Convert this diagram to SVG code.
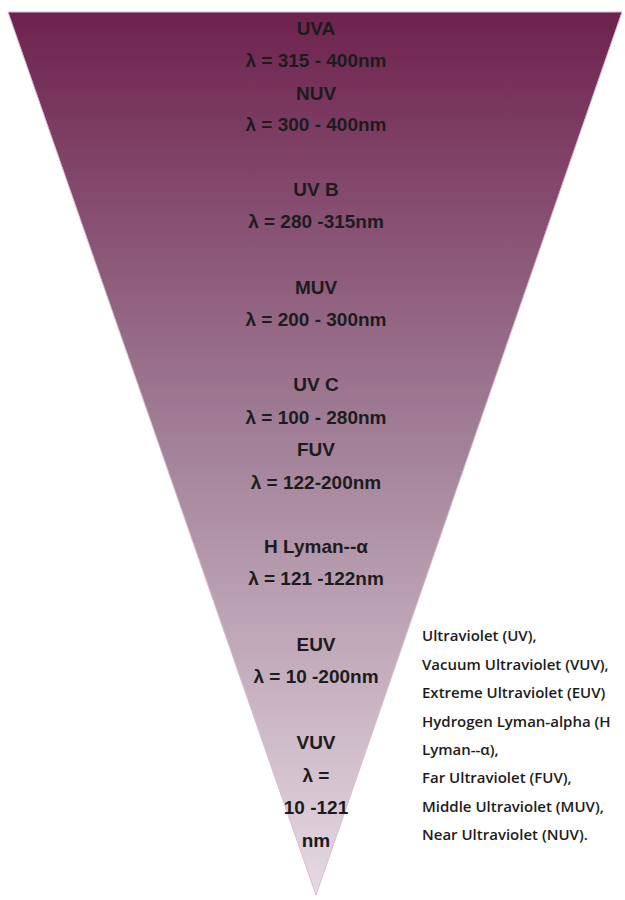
<svg xmlns="http://www.w3.org/2000/svg" width="625" height="900" viewBox="0 0 625 900">
<style>
.c{font-family:"Liberation Sans",Arial,sans-serif;font-weight:bold;font-size:19px;fill:#1c1c1c;text-anchor:middle}
.r{font-family:"Open Sans","Noto Sans",sans-serif;font-weight:600;font-size:15px;fill:#1c1c1c}
</style>
<defs>
<linearGradient id="g" x1="0" y1="12" x2="0" y2="895" gradientUnits="userSpaceOnUse">
<stop offset="0" stop-color="#6e224e"/>
<stop offset="0.5" stop-color="#a4839a"/>
<stop offset="1" stop-color="#e6dae3"/>
</linearGradient>
</defs>
<g id="funnel">
<polygon points="8,12 622,12 316,895" fill="url(#g)" stroke="#d8bccd" stroke-width="1"/>
</g>
<g id="bands">
<g id="uva"><text class="c" x="316" y="35">UVA</text><text class="c" x="316" y="67">λ = 315 - 400nm</text></g>
<g id="nuv"><text class="c" x="316" y="100">NUV</text><text class="c" x="316" y="131">λ = 300 - 400nm</text></g>
<g id="uvb"><text class="c" x="316" y="196">UV B</text><text class="c" x="316" y="228">λ = 280 -315nm</text></g>
<g id="muv"><text class="c" x="316" y="294">MUV</text><text class="c" x="316" y="326">λ = 200 - 300nm</text></g>
<g id="uvc"><text class="c" x="316" y="391">UV C</text><text class="c" x="316" y="424">λ = 100 - 280nm</text></g>
<g id="fuv"><text class="c" x="316" y="456">FUV</text><text class="c" x="316" y="489">λ = 122-200nm</text></g>
<g id="lyman"><text class="c" x="316" y="553">H Lyman--α</text><text class="c" x="316" y="585">λ = 121 -122nm</text></g>
<g id="euv"><text class="c" x="316" y="651">EUV</text><text class="c" x="316" y="683">λ = 10 -200nm</text></g>
<g id="vuv"><text class="c" x="316" y="749">VUV</text><text class="c" x="316" y="782">λ =</text><text class="c" x="316" y="814">10 -121</text><text class="c" x="316" y="847">nm</text></g>
</g>
<g id="legend">
<text class="r" x="422" y="641">Ultraviolet (UV),</text>
<text class="r" x="422" y="670">Vacuum Ultraviolet (VUV),</text>
<text class="r" x="422" y="698">Extreme Ultraviolet (EUV)</text>
<text class="r" x="422" y="727">Hydrogen Lyman-alpha (H</text>
<text class="r" x="422" y="755">Lyman--α),</text>
<text class="r" x="422" y="783">Far Ultraviolet (FUV),</text>
<text class="r" x="422" y="812">Middle Ultraviolet (MUV),</text>
<text class="r" x="422" y="840">Near Ultraviolet (NUV).</text>
</g>
</svg>
